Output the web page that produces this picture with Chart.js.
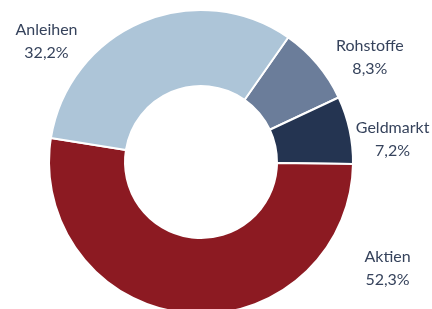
<!DOCTYPE html>
<html>
<head>
<meta charset="utf-8">
<script src="https://cdn.jsdelivr.net/npm/chart.js@4"></script>
<style>
  html, body { margin: 0; padding: 0; background: #fff; overflow: hidden; }
  #wrap { position: relative; width: 432px; height: 330px; }
</style>
</head>
<body>
<div id="wrap"><canvas id="chart"></canvas></div>
<script>
// Data
const categories = ['Rohstoffe', 'Geldmarkt', 'Aktien', 'Anleihen'];
const shares = [8.3, 7.2, 52.3, 32.2];
const sliceColors = ['#6b7d9a', '#243451', '#8c1a22', '#adc5d8'];

// label anchor: angle (deg, clockwise from top) and distance in outer radii
const labelSpots = [
    { angle: 58, dist: 1.31 },
    { angle: 83, dist: 1.27 },
    { angle: 119.5, dist: 1.41 },
    { angle: 308, dist: 1.29 }
];

const outsideLabels = {
    id: 'outsideLabels',
    afterDraw(chart) {
        const ctx = chart.ctx;
        const arcs = chart.getDatasetMeta(0).data;
        ctx.save();
        ctx.font = '16px Lato, sans-serif';
        ctx.fillStyle = '#36435c';
        ctx.textAlign = 'center';
        ctx.textBaseline = 'middle';
        arcs.forEach((arc, i) => {
            const spot = labelSpots[i];
            const a = spot.angle * Math.PI / 180;
            const r = arc.outerRadius * spot.dist;
            const x = arc.x + r * Math.sin(a);
            const y = arc.y - r * Math.cos(a);
            const pct = shares[i].toFixed(1).replace('.', ',') + '%';
            ctx.fillText(categories[i], x, y - 11);
            ctx.fillText(pct, x, y + 12);
        });
        ctx.restore();
    }
};

new Chart(document.getElementById('chart').getContext('2d'), {
    type: 'doughnut',
    data: {
        labels: categories,
        datasets: [{
            data: shares,
            backgroundColor: sliceColors,
            borderColor: '#ffffff',
            borderWidth: 2
        }]
    },
    options: {
        responsive: true,
        maintainAspectRatio: false,
        animation: false,
        rotation: 35,
        cutout: '50%',
        layout: { padding: { top: 9, bottom: 15, left: 0, right: 30 } },
        plugins: {
            legend: { display: false },
            tooltip: { enabled: false }
        }
    },
    plugins: [outsideLabels]
});
</script>
</body>
</html>
